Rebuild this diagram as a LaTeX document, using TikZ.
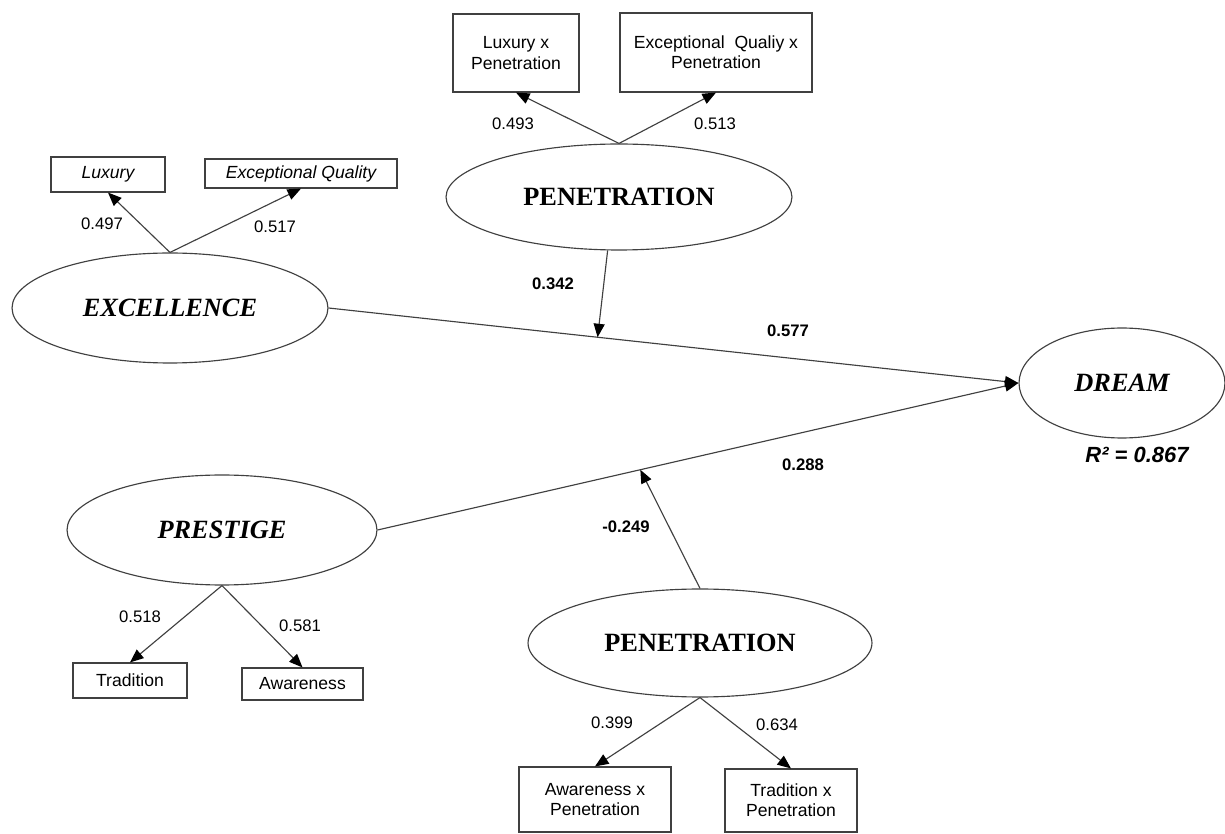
\documentclass[tikz,border=0pt]{standalone}
\usepackage{fontspec}
\setmainfont{Liberation Serif}
\setsansfont{Liberation Sans}
\usetikzlibrary{shapes.geometric,arrows.meta}

\tikzset{
    latent/.style={ellipse, draw=black!75, line width=0.65pt, inner sep=0pt, font=\fontsize{15}{18}\selectfont\bfseries},
    latentit/.style={latent, font=\fontsize{15}{18}\selectfont\bfseries\itshape},
    indic/.style={rectangle, draw=black!75, line width=0.65pt, inner sep=0pt, align=center, font=\sffamily\fontsize{10}{11.5}\selectfont},
    load/.style={font=\sffamily\fontsize{9.5}{11}\selectfont},
    coef/.style={font=\sffamily\bfseries\fontsize{9.5}{11}\selectfont},
    link/.style={draw=black!75, line width=0.65pt, -{Triangle[length=0.27cm, width=0.22cm, color=black]}},
}

\begin{document}
\begin{tikzpicture}[x=0.02cm, y=-0.02cm]
    \useasboundingbox (0,0) rectangle (1225,834);

    \node[latentit, minimum width=6.32cm, minimum height=2.2cm] (exc) at (170,308) {EXCELLENCE};
    
    \node[latent, minimum width=6.92cm, minimum height=2.12cm] (penTop) at (619,197) {PENETRATION};
    
    \node[latentit, minimum width=4.12cm, minimum height=2.2cm] (dream) at (1122,383) {DREAM};
    
    \node[latentit, minimum width=6.2cm, minimum height=2.2cm] (prs) at (222,530) {PRESTIGE};
    
    \node[latent, minimum width=6.88cm, minimum height=2.16cm] (penBot) at (700,643) {PENETRATION};
    
    
    
    \node[indic, minimum width=2.28cm, minimum height=0.7cm, font=\sffamily\itshape\fontsize{10}{11.5}\selectfont] (lux) at (108,174.5) {Luxury};
    
    \node[indic, minimum width=3.84cm, minimum height=0.58cm, font=\sffamily\itshape\fontsize{10}{11.5}\selectfont] (eq) at (301,173.5) {Exceptional Quality};
    
    \node[indic, minimum width=2.52cm, minimum height=1.56cm] (luxPen) at (516,53) {Luxury x\\Penetration};
    
    \node[indic, minimum width=3.84cm, minimum height=1.58cm] (eqPen) at (716,52.5) {Exceptional~~Qualiy x\\Penetration};
    
    \node[indic, minimum width=2.28cm, minimum height=0.7cm] (trad) at (130,680.5) {Tradition};
    
    \node[indic, minimum width=2.42cm, minimum height=0.64cm] (awa) at (302.5,684) {Awareness};
    
    \node[indic, minimum width=3.04cm, minimum height=1.3cm] (awaPen) at (595,799.5) {Awareness x\\Penetration};
    
    \node[indic, minimum width=2.64cm, minimum height=1.26cm] (tradPen) at (791,800.5) {Tradition x\\Penetration};
    
    
    
    \draw[link] (exc.north) -- (lux.south);
    \draw[link] (exc.north) -- (eq.south);
    \draw[link] (penTop.north) -- (luxPen.south);
    \draw[link] (penTop.north) -- (eqPen.south);
    \draw[link] (prs.south) -- (trad.north);
    \draw[link] (prs.south) -- (awa.north);
    \draw[link] (penBot.south) -- (awaPen.north);
    \draw[link] (penBot.south) -- (tradPen.north);
    
    \draw[link] (exc.east) -- coordinate[pos=0.39] (modA) (dream.west);
    \draw[link] (prs.east) -- coordinate[pos=0.41] (modB) (dream.west);
    \draw[link] (penTop.258) -- (modA);
    \draw[link] (penBot.north) -- (modB);
    
    
    
    \node[load] (l1) at (102,224) {0.497};
    \node[load] (l2) at (275,227) {0.517};
    \node[load] (l3) at (513,124) {0.493};
    \node[load] (l4) at (715,124) {0.513};
    \node[load] (l5) at (140,617) {0.518};
    \node[load] (l6) at (300,626) {0.581};
    \node[load] (l7) at (612,723) {0.399};
    \node[load] (l8) at (777,725) {0.634};
    
    \node[coef] (c1) at (553,284) {0.342};
    \node[coef] (c2) at (788,331) {0.577};
    \node[coef] (c3) at (803,465) {0.288};
    \node[coef] (c4) at (626,527) {-0.249};
    
    \node[font=\sffamily\bfseries\itshape\fontsize{12.5}{15}\selectfont] (rsq) at (1137,455) {R² = 0.867};
    
\end{tikzpicture}
\end{document}
